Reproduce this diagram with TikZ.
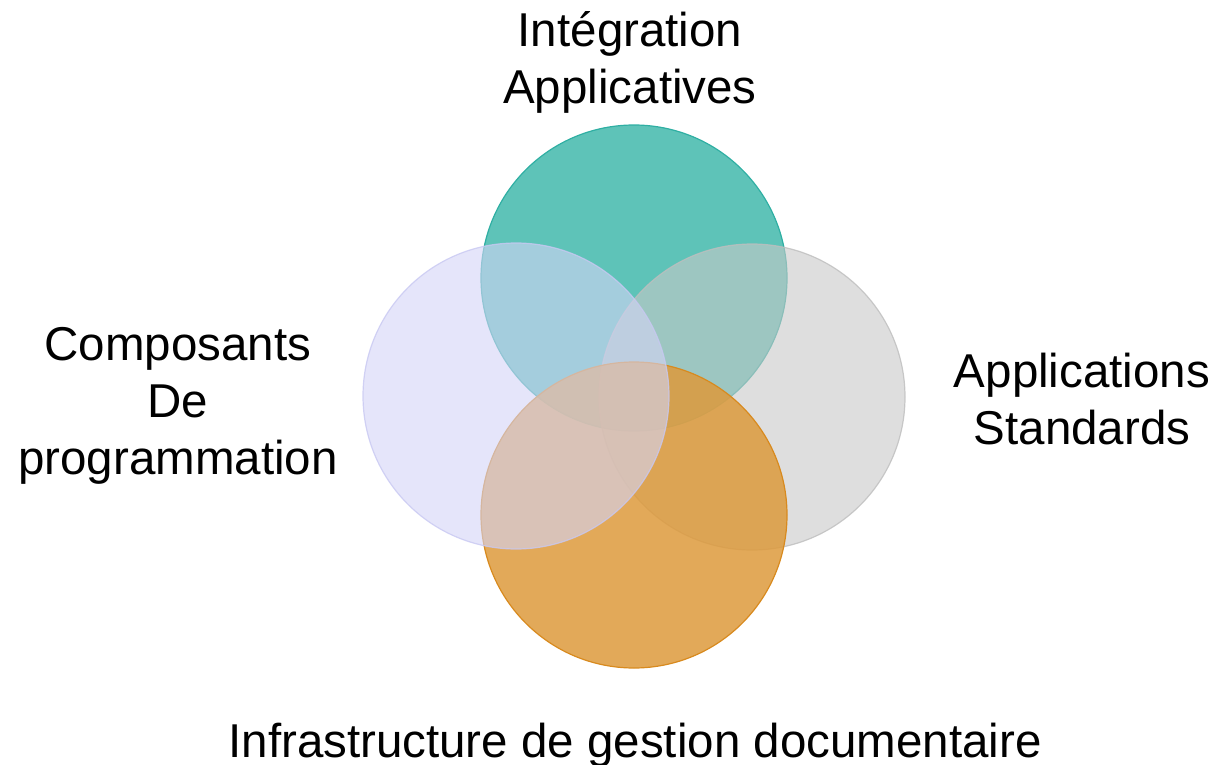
\documentclass[tikz,border=0pt]{standalone}
\usepackage{fontspec}
\setmainfont{Liberation Sans}
\definecolor{tealF}{HTML}{5EC3B8}
\definecolor{tealD}{HTML}{2FAFA3}
\definecolor{grayF}{HTML}{C8C8C8}
\definecolor{grayD}{HTML}{BEBEBE}
\definecolor{orangeF}{HTML}{DD9A3C}
\definecolor{orangeD}{HTML}{D88A1E}
\definecolor{lavF}{HTML}{D4D4F6}
\definecolor{lavD}{HTML}{C8C8F2}
\tikzset{
  disc/.style={circle, minimum size=306pt, inner sep=0pt, line width=1.2pt},
  lbl/.style={align=center, inner sep=0pt, font=\fontsize{47.5}{57}\selectfont, anchor=base}
}
\begin{document}
\begin{tikzpicture}[x=1pt,y=-1pt]
\useasboundingbox (0,0) rectangle (1215,765);
\node[disc, draw=tealD, fill=tealF] (top) at (634,278) {};
\node[disc, draw=grayD, fill=grayF, fill opacity=0.6, draw opacity=0.8] (right) at (752,397) {};
\node[disc, draw=orangeD, fill=orangeF, fill opacity=0.85] (bottom) at (634,515) {};
\node[disc, draw=lavD, fill=lavF, fill opacity=0.6, draw opacity=0.8] (left) at (516,396) {};
\node[lbl] (ltop) at (630,104) {Intégration\\Applicatives};
\node[lbl] (lleft) at (178,474) {Composants\\De\\programmation};
\node[lbl] (lright) at (1082,444) {Applications\\Standards};
\node[lbl] (lbottom) at (635,757) {Infrastructure de gestion documentaire};
\end{tikzpicture}
\end{document}
